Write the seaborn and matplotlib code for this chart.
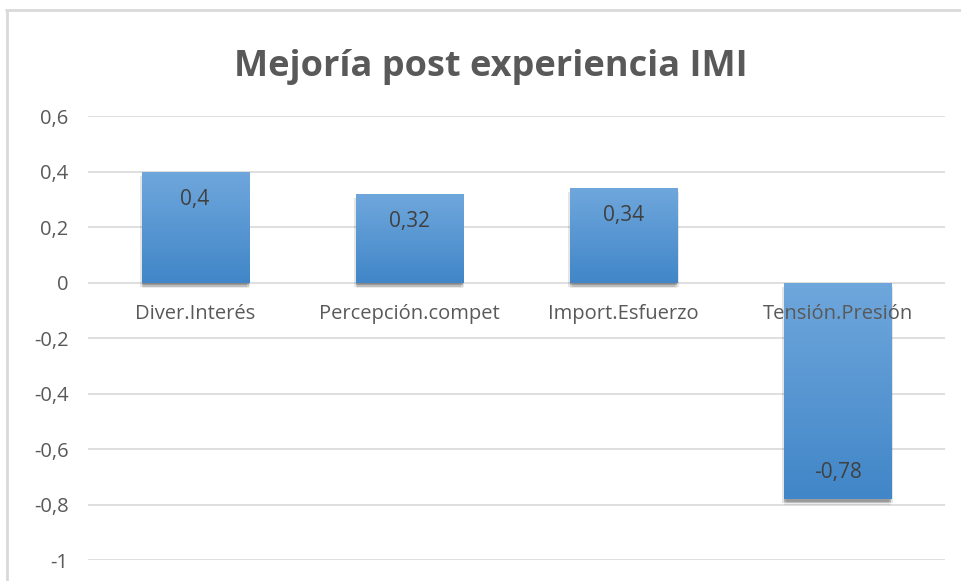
import numpy as np
import matplotlib
matplotlib.use('Agg')
import matplotlib.pyplot as plt
import matplotlib.patheffects as pe
from matplotlib.colors import LinearSegmentedColormap
from matplotlib.ticker import FuncFormatter
import seaborn as sns

# Datos
categorias = ['Diver.Interés', 'Percepción.compet', 'Import.Esfuerzo', 'Tensión.Presión']
mejoria = [0.4, 0.32, 0.34, -0.78]
etiquetas = ['0,4', '0,32', '0,34', '-0,78']
y_ticks = [-1, -0.8, -0.6, -0.4, -0.2, 0, 0.2, 0.4, 0.6]

gris_texto = '#595959'
gris_dato = '#404040'
gris_grid = '#d9d9d9'

sns.set_style('white')
plt.rcParams['font.family'] = ['Open Sans', 'DejaVu Sans']

fig = plt.figure(figsize=(9.61, 5.81), dpi=100)
ax = fig.add_axes([0.0916, 0.0361, 0.8914, 0.7642])

sns.barplot(x=categorias, y=mejoria, order=categorias, color='#5b9bd5', width=0.5, ax=ax,
            saturation=1, zorder=3)

ax.set_ylim(-1, 0.6)
ax.set_yticks(y_ticks)
ax.yaxis.set_major_formatter(FuncFormatter(
    lambda v, p: ('%d' % round(v)) if abs(v - round(v)) < 1e-9 else ('%.1f' % v).replace('.', ',')))
ax.tick_params(axis='y', labelsize=14.5, labelcolor=gris_texto, length=0, pad=14)
ax.set_xticks([])
ax.set_xlabel('')
ax.set_ylabel('')
for s in ax.spines.values():
    s.set_visible(False)
ax.grid(axis='y', color=gris_grid, linewidth=1.2, zorder=0)
ax.set_axisbelow(True)

# Degradado y sombra suave de las barras
cmap = LinearSegmentedColormap.from_list('azul', ['#4186c8', '#6fa7dc'])
grad = np.linspace(0, 1, 256).reshape(-1, 1)
sombra = [pe.SimplePatchShadow(offset=(0, -4), shadow_rgbFace='#000000', alpha=0.08),
          pe.SimplePatchShadow(offset=(1.2, -3), shadow_rgbFace='#000000', alpha=0.1),
          pe.SimplePatchShadow(offset=(-1.2, -3), shadow_rgbFace='#000000', alpha=0.1),
          pe.SimplePatchShadow(offset=(0, -2), shadow_rgbFace='#000000', alpha=0.18),
          pe.Normal()]
for bar in ax.patches:
    x0, w = bar.get_x(), bar.get_width()
    y0, h = bar.get_y(), bar.get_height()
    ybot, ytop = min(y0, y0 + h), max(y0, y0 + h)
    bar.set_path_effects(sombra)
    bar.set_edgecolor('none')
    im = ax.imshow(grad, cmap=cmap, aspect='auto', origin='lower',
                   extent=[x0, x0 + w, ybot, ytop], zorder=4)
    im.set_clip_path(bar)
ax.set_xlim(-0.5, len(categorias) - 0.5)

# Etiquetas de datos
for i, (v, t) in enumerate(zip(mejoria, etiquetas)):
    off = -20 if v > 0 else 19
    ax.annotate(t, (i, v), xytext=(0, off), textcoords='offset points', ha='center', va='center',
                fontsize=15, color=gris_dato, zorder=6)

# Nombres de categoría junto al eje cero
for i, c in enumerate(categorias):
    ax.annotate(c, (i, 0), xytext=(0, -22.5), textcoords='offset points', ha='center', va='center',
                fontsize=14.5, color=gris_texto, zorder=6)

fig.suptitle('Mejoría post experiencia IMI', x=0.511, y=0.915, fontsize=26, fontweight='bold',
             color=gris_texto)

# Borde del gráfico
fig.add_artist(plt.Line2D([0.006, 1.0], [0.983, 0.983], transform=fig.transFigure, color='#d9d9d9', lw=2))
fig.add_artist(plt.Line2D([0.007, 0.007], [0.0, 0.983], transform=fig.transFigure, color='#d9d9d9', lw=2))

fig.savefig('out.png', dpi=100)
